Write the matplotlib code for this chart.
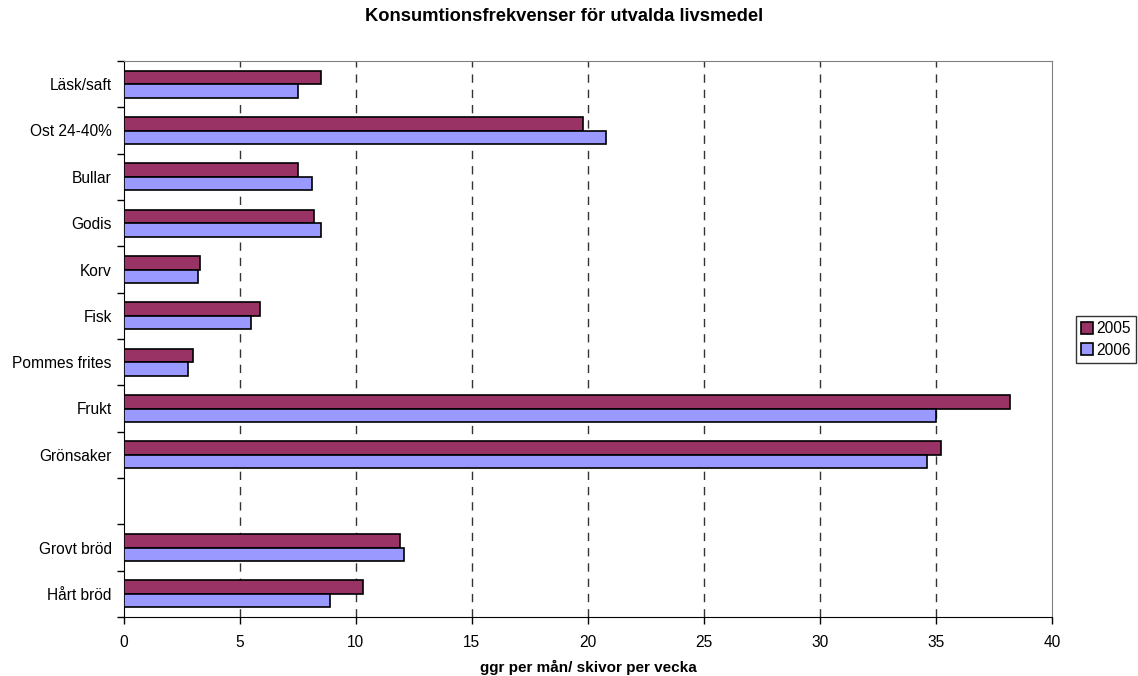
import numpy as np
import matplotlib
matplotlib.use("Agg")
import matplotlib.pyplot as plt

plt.rcParams['font.family'] = ['Liberation Sans', 'DejaVu Sans']

# Categories top to bottom; '' is the empty slot in the original chart
categories = ['Läsk/saft', 'Ost 24-40%', 'Bullar', 'Godis', 'Korv', 'Fisk',
              'Pommes frites', 'Frukt', 'Grönsaker', '', 'Grovt bröd', 'Hårt bröd']
values_2005 = [8.5, 19.8, 7.5, 8.2, 3.3, 5.9, 3.0, 38.2, 35.2, np.nan, 11.9, 10.3]
values_2006 = [7.5, 20.8, 8.1, 8.5, 3.2, 5.5, 2.8, 35.0, 34.6, np.nan, 12.1, 8.9]
series_names = ['2005', '2006']
colors = ['#993366', '#9999FF']
xticks = [0, 5, 10, 15, 20, 25, 30, 35, 40]

fig = plt.figure(figsize=(11.38, 6.76), dpi=100)
ax = fig.add_axes([123.5 / 1138, 59 / 676, (1052 - 123.5) / 1138, (617 - 61) / 676])

n = len(categories)
y = np.arange(n)[::-1] + 0.5
h = 0.29
ax.barh(y + h / 2, values_2005, height=h, color=colors[0], edgecolor='black',
        linewidth=1.2, label=series_names[0], zorder=3)
ax.barh(y - h / 2, values_2006, height=h, color=colors[1], edgecolor='black',
        linewidth=1.2, label=series_names[1], zorder=3)

ax.set_xlim(0, 40)
ax.set_ylim(0, n)
ax.set_xticks(xticks)
ax.set_xticklabels([str(t) for t in xticks], fontsize=11.2)
ax.set_yticks(np.arange(n + 1))
ax.set_yticklabels([])
ax.set_yticks(y, minor=True)
ax.set_yticklabels(categories, minor=True, fontsize=11.2)
ax.tick_params(axis='y', which='minor', length=0, pad=8.5)
ax.tick_params(axis='y', which='major', direction='out', length=5, width=1)
ax.tick_params(axis='x', direction='out', length=5, width=1, pad=8)

for xv in xticks[1:-1]:
    ax.axvline(xv, color='#333333', linestyle=(0, (6, 5)), linewidth=1, zorder=1)

ax.spines['left'].set_color('black')
ax.spines['bottom'].set_color('black')
ax.spines['top'].set_color('#808080')
ax.spines['right'].set_color('#808080')

fig.text(588 / 1138, 1 - 667 / 676, 'ggr per mån/ skivor per vecka', fontsize=11,
         fontweight='bold', ha='center', va='center')
fig.suptitle('Konsumtionsfrekvenser för utvalda livsmedel', x=0.496, y=0.988,
             fontsize=13.2, fontweight='bold')

leg = ax.legend(loc='center left', bbox_to_anchor=(1076 / 1138, 1 - 339.5 / 676),
                bbox_transform=fig.transFigure, fontsize=11.2, frameon=True,
                fancybox=False, edgecolor='black', handlelength=0.75, handleheight=0.75,
                handletextpad=0.2, borderpad=0.35, labelspacing=0.4, borderaxespad=0)
leg.get_frame().set_linewidth(1)

fig.savefig('out.png', dpi=100)
